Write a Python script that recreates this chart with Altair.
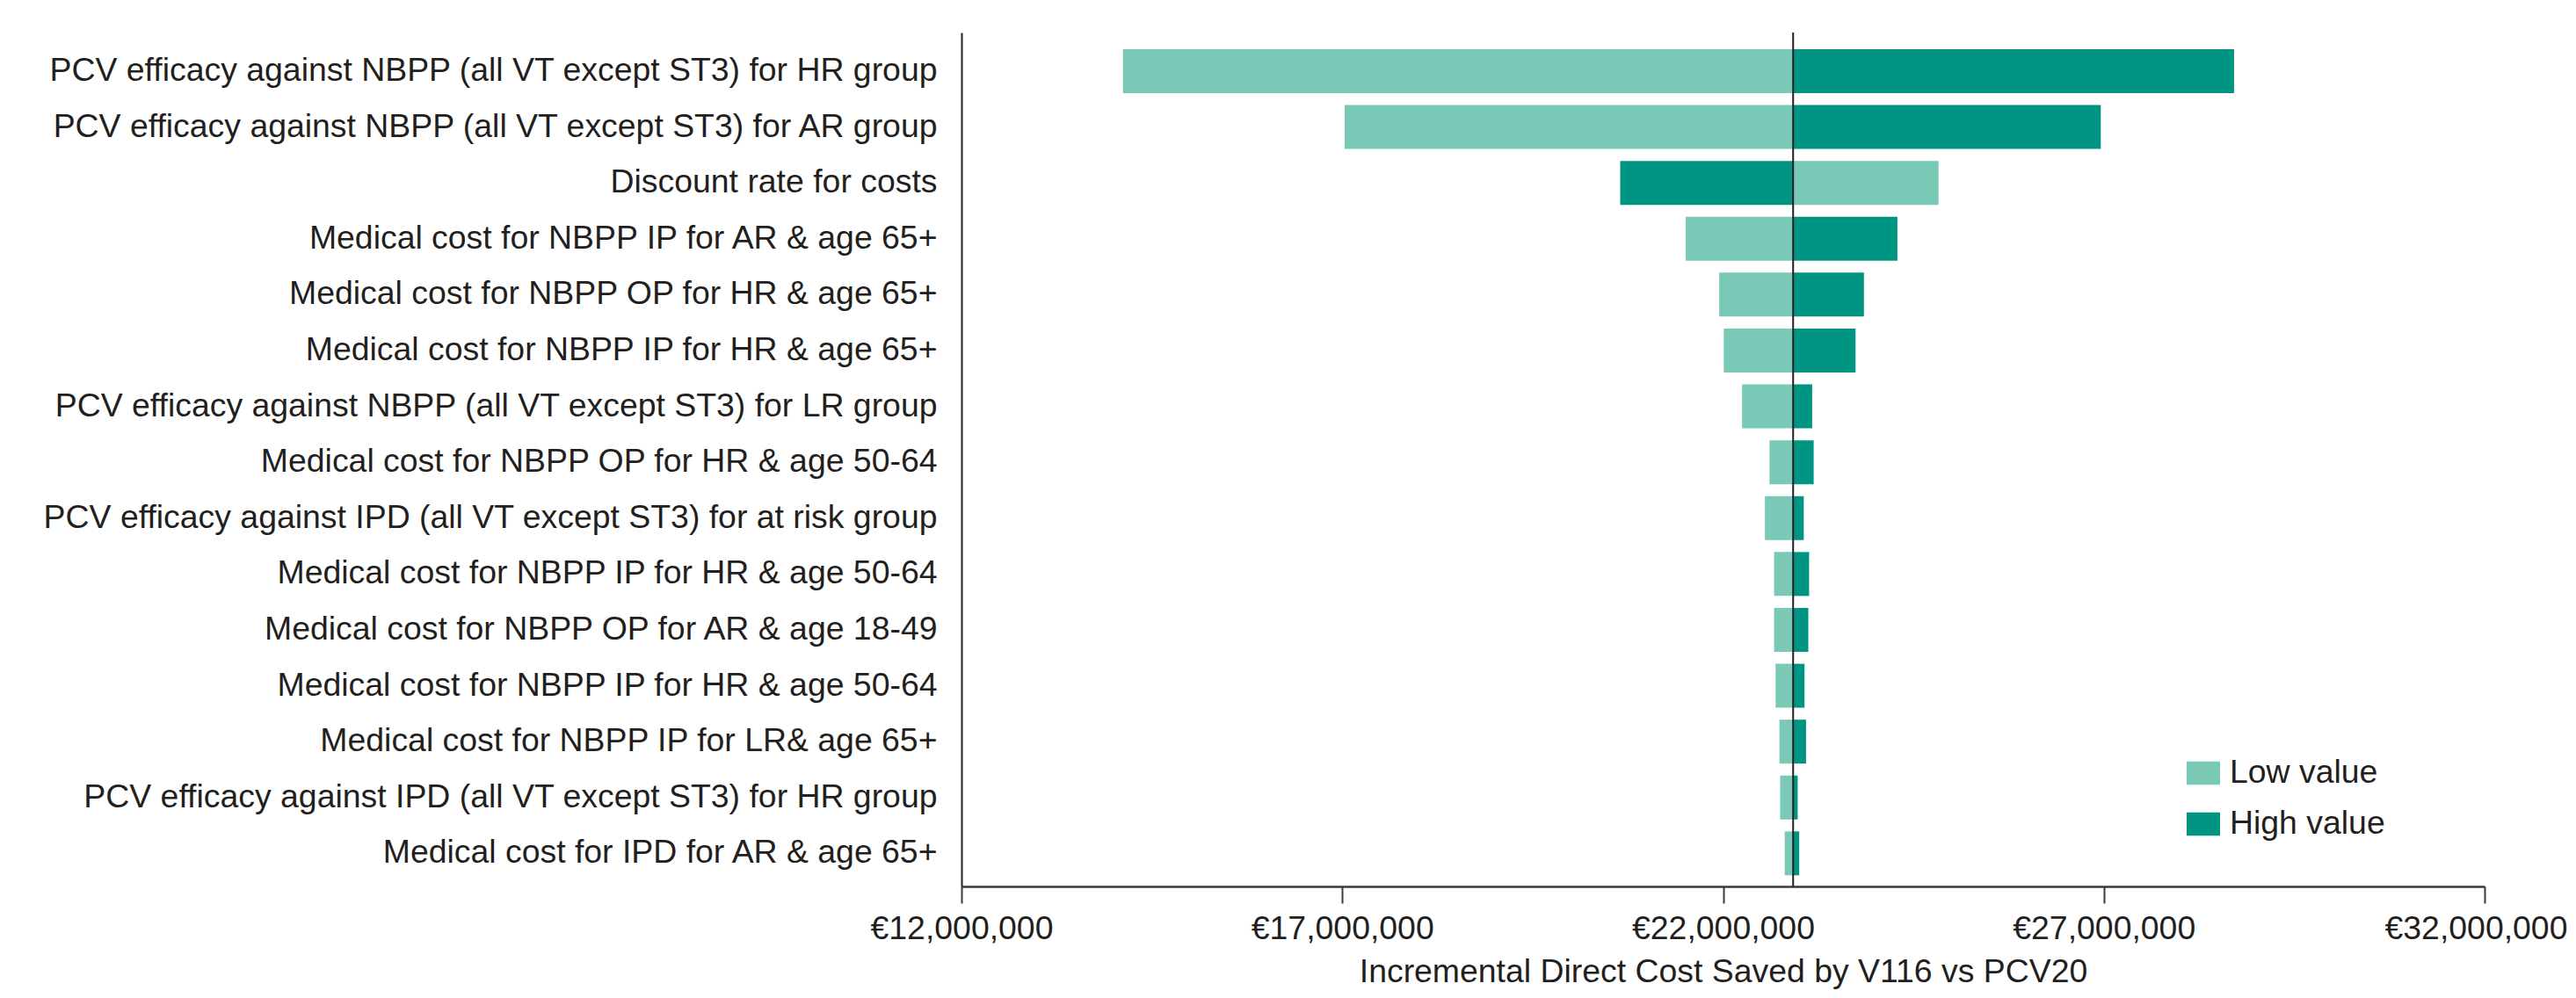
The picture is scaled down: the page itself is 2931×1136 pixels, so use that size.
import altair as alt
import pandas as pd

params = [
    "PCV efficacy against NBPP (all VT except ST3) for HR group",
    "PCV efficacy against NBPP (all VT except ST3) for AR group",
    "Discount rate for costs",
    "Medical cost for NBPP IP for AR & age 65+",
    "Medical cost for NBPP OP for HR & age 65+",
    "Medical cost for NBPP IP for HR & age 65+",
    "PCV efficacy against NBPP (all VT except ST3) for LR group",
    "Medical cost for NBPP OP for HR & age 50-64",
    "PCV efficacy against IPD (all VT except ST3) for at risk group",
    "Medical cost for NBPP IP for HR & age 50-64 ",
    "Medical cost for NBPP OP for AR & age 18-49",
    "Medical cost for NBPP IP for HR & age 50-64",
    "Medical cost for NBPP IP for LR& age 65+",
    "PCV efficacy against IPD (all VT except ST3) for HR group",
    "Medical cost for IPD for AR & age 65+",
]
low_values = [14120000, 17030000, 24830000, 21510000, 21950000, 22010000, 22250000,
              22610000, 22550000, 22670000, 22670000, 22690000, 22740000, 22750000, 22810000]
high_values = [28710000, 26960000, 20650000, 24290000, 23850000, 23740000, 23170000,
               23190000, 23060000, 23130000, 23120000, 23070000, 23090000, 22980000, 23000000]
base_value = 22920000
tick_values = [12000000, 17000000, 22000000, 27000000, 32000000]
series = ["Low value", "High value"]
colors = ["#79C9B6", "#009482"]

rows = []
for p, lo, hi in zip(params, low_values, high_values):
    rows.append({"param": p, "type": "Low value", "start": base_value, "end": lo})
    rows.append({"param": p, "type": "High value", "start": base_value, "end": hi})
df = pd.DataFrame(rows)

TEXT = "#231F20"
FONT = "Liberation Sans"
FS = 37.4

bars = alt.Chart(df).mark_bar().encode(
    y=alt.Y(
        "param:N",
        sort=params,
        scale=alt.Scale(paddingInner=0.214, paddingOuter=0.248, align=0.6),
        axis=alt.Axis(
            title=None, ticks=False, labelFontSize=FS, labelPadding=28,
            labelColor=TEXT, labelFont=FONT, domainColor=TEXT, domainWidth=2,
            labelLimit=1100,
        ),
    ),
    x=alt.X(
        "start:Q",
        scale=alt.Scale(domain=[12000000, 32000000], nice=False, zero=False),
        axis=alt.Axis(
            title="Incremental Direct Cost Saved by V116 vs PCV20",
            values=tick_values,
            labelExpr="'€' + format(datum.value, ',')",
            grid=False, tickSize=19, tickColor="#3a3a3a", tickWidth=2,
            domainColor="#3a3a3a", domainWidth=2.5,
            labelFontSize=FS, labelColor=TEXT, labelFont=FONT, labelPadding=10,
            labelFlush=False, labelOverlap=False, labelLimit=500,
            labelOffset={"condition": {"test": "datum.value >= 32000000", "value": -10}, "value": 0},
            titleFontSize=FS, titleFontWeight="normal", titleColor=TEXT,
            titleFont=FONT, titlePadding=12,
        ),
    ),
    x2="end:Q",
    color=alt.Color(
        "type:N",
        scale=alt.Scale(domain=series, range=colors),
        legend=alt.Legend(
            title=None, orient="none", legendX=1394, legendY=824,
            symbolType="M-1,-0.7H1V0.7H-1Z", symbolSize=1444,
            symbolStrokeWidth=0, labelFontSize=FS, labelFont=FONT,
            labelColor=TEXT, labelOffset=11, rowPadding=20, labelLimit=500,
        ),
    ),
)

center = alt.Chart(pd.DataFrame({"b": [base_value]})).mark_rule(
    color=TEXT, strokeWidth=2
).encode(x=alt.X(datum=base_value))

chart = alt.layer(bars, center).properties(
    width=1733, height=972,
    autosize="none",
    padding={"left": 1086, "top": 29, "right": 96, "bottom": 119},
    background="white",
).configure_view(stroke=None)

chart.save("out.html", embed_options={"renderer": "svg", "actions": False})
